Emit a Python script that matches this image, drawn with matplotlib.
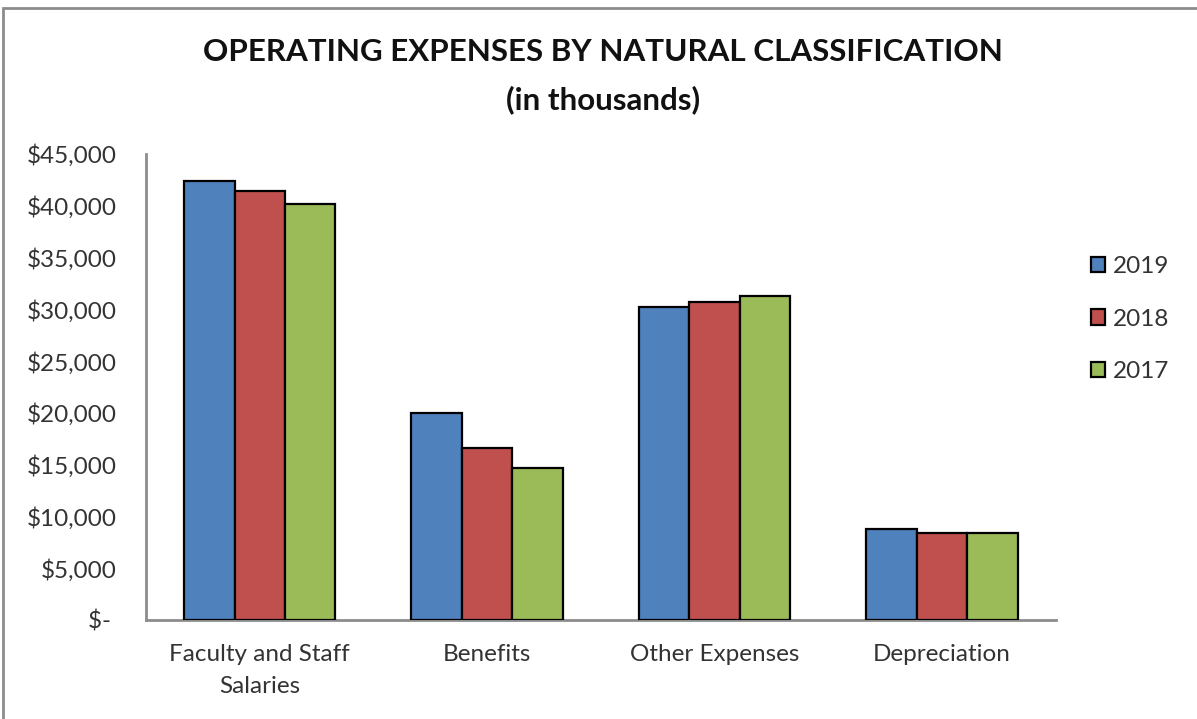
import matplotlib.pyplot as plt
from matplotlib.patches import Rectangle
import numpy as np

# ---- data (in thousands of dollars) ----
categories = ["Faculty and Staff\nSalaries", "Benefits", "Other Expenses", "Depreciation"]
years = ["2019", "2018", "2017"]
vals_2019 = [42350, 20030, 30200, 8760]
vals_2018 = [41400, 16650, 30700, 8370]
vals_2017 = [40200, 14700, 31300, 8430]
colors = ["#4F81BD", "#C0504D", "#9BBB59"]
yticks = list(range(0, 45001, 5000))

plt.rcParams["font.family"] = ["Lato", "DejaVu Sans"]

fig = plt.figure(figsize=(11.97, 7.19), dpi=100)
ax = fig.add_axes([0.122, 0.1377, 0.760, 0.6483])

x = np.arange(len(categories))
w = 0.222
for j, (yr, vals) in enumerate(zip(years, [vals_2019, vals_2018, vals_2017])):
    ax.bar(x + (j - 1) * w, vals, width=w, color=colors[j], edgecolor="black",
           linewidth=1.6, label=yr, zorder=3)

ax.set_xlim(-0.5, 3.5)
ax.set_ylim(0, 45000)
ax.set_yticks(yticks)
ax.set_yticklabels(["$- " if v == 0 else f"${v:,}" for v in yticks])
ax.set_xticks(x)
ax.set_xticklabels(categories, linespacing=1.65)
ax.tick_params(length=0, labelsize=17.5, colors="#333333")
ax.tick_params(axis="y", pad=21)
ax.tick_params(axis="x", pad=17)

for s in ["top", "right"]:
    ax.spines[s].set_visible(False)
for s in ["left", "bottom"]:
    ax.spines[s].set_color("#8c8c8c")
    ax.spines[s].set_linewidth(2)

# title
fig.text(0.504, 0.928, "OPERATING EXPENSES BY NATURAL CLASSIFICATION",
         ha="center", va="center", fontsize=22.6, fontweight="bold", color="#111111")
fig.text(0.504, 0.861, "(in thousands)", ha="center", va="center",
         fontsize=22.6, fontweight="bold", color="#111111")

# legend
leg = fig.legend(loc="center left", bbox_to_anchor=(0.893, 0.556), frameon=False,
                 fontsize=17.5, handlelength=0.6, handleheight=0.6, handletextpad=0.3,
                 labelspacing=1.3)
for t in leg.get_texts():
    t.set_color("#333333")

# outer frame
fig.patches.append(Rectangle((3 / 1197, -0.1), 1.2, 1.1 - 8 / 719,
                             transform=fig.transFigure, fill=False,
                             edgecolor="#8c8c8c", linewidth=2))

fig.savefig("out.png", dpi=100)
